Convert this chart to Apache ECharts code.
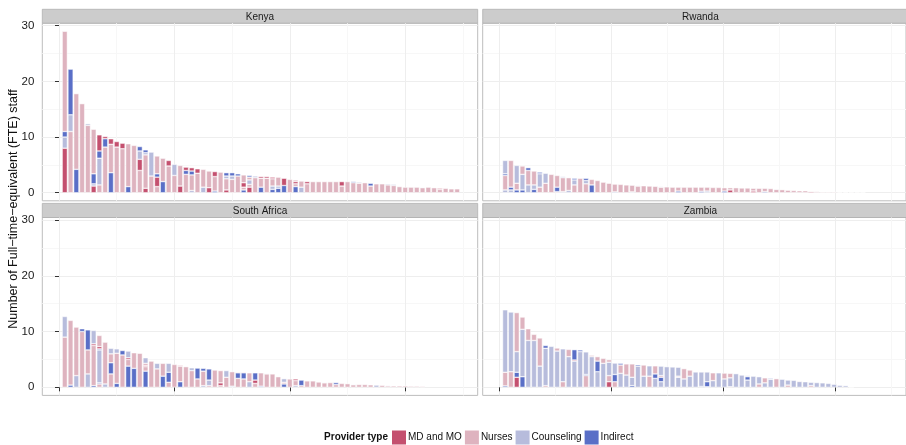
<!DOCTYPE html>
<html>
<head>
<meta charset="utf-8">
<script src="https://cdn.jsdelivr.net/npm/echarts@6/dist/echarts.min.js"></script>
<style>
html, body { margin: 0; padding: 0; background: #fff; }
#chart { width: 906px; height: 445px; }
</style>
</head>
<body>
<div id="chart"></div>
<script>
// provider type codes
var M = 0, N = 1, C = 2, I = 3;
var providerTypes = ['MD and MO', 'Nurses', 'Counseling', 'Indirect'];
var providerColors = ['#c4506f', '#deb3bf', '#b7bcdc', '#5a6fc7'];
var countries = ['Kenya', 'Rwanda', 'South Africa', 'Zambia'];
var yTicks = [0, 10, 20, 30];
var yMinor = [5, 15, 25];
var xTicks = [0, 20, 40, 60];
var xMinor = [10, 30, 50, 70];

// one entry per facility, segments from bottom to top: [provider type, FTE]
var kenya = [
  [[M,8],[C,2],[I,1],[N,18]],
  [[N,11],[C,3],[I,8.2]],
  [[I,4.2],[N,13.6]],
  [[N,16]],
  [[N,12.1],[C,0.3]],
  [[M,1.2],[C,0.4],[I,1.8],[N,8]],
  [[N,1.4],[C,4.8],[I,1.3],[M,2.9]],
  [[N,8.2],[I,1.5],[M,0.4]],
  [[I,3.6],[N,5.1],[M,1]],
  [[N,8.2],[M,1]],
  [[N,7.9],[M,1]],
  [[I,1.1],[N,7.7]],
  [[N,8.5]],
  [[N,4],[M,2],[C,1.5],[I,0.8]],
  [[M,0.8],[N,6],[C,0.4],[I,0.5]],
  [[N,3],[C,4.3]],
  [[N,1.1],[M,1.7],[I,0.6],[N,3.2]],
  [[I,2],[N,4.2]],
  [[N,4.8],[M,1]],
  [[N,3.1],[C,2]],
  [[M,1.2],[N,3.7]],
  [[N,3.3],[I,0.7],[M,0.6]],
  [[C,0.4],[N,2.8],[I,0.7],[M,0.6]],
  [[N,3.5],[M,0.8]],
  [[C,1],[N,3.2]],
  [[M,0.9],[N,3]],
  [[I,0.3],[N,2.6],[M,0.9]],
  [[N,3.7]],
  [[M,0.5],[N,2],[C,0.5],[I,0.6]],
  [[N,2.4],[C,0.6],[I,0.6]],
  [[N,3],[I,0.4]],
  [[I,0.5],[N,0.5],[M,0.8],[N,1.4]],
  [[M,1],[N,0.5],[C,0.8],[N,0.5],[I,0.3]],
  [[N,2.7],[C,0.3]],
  [[I,1],[N,1.6],[M,0.3]],
  [[N,2.6],[M,0.3]],
  [[I,0.6],[C,0.6],[N,1.3],[M,0.3]],
  [[I,0.8],[C,0.4],[N,1.6]],
  [[I,1.3],[M,1.3]],
  [[N,2.4]],
  [[I,1.1],[N,0.5],[M,0.4],[N,0.3]],
  [[C,1],[N,1.1]],
  [[N,1.6],[M,0.4]],
  [[N,2]], [[N,2]], [[N,2]], [[N,2]], [[N,2]],
  [[N,1.2],[M,0.8]],
  [[N,2]],
  [[N,1.8],[I,0.2]],
  [[N,1.7],[C,0.2]],
  [[N,1.8]],
  [[N,1.2],[I,0.5]],
  [[N,1.6]], [[N,1.6]],
  [[N,1.4],[C,0.2]],
  [[N,1.3],[C,0.2]],
  [[N,1.1]],
  [[N,1]], [[N,1]], [[N,1]],
  [[N,0.9],[I,0.1]],
  [[N,1]],
  [[N,0.9]],
  [[N,0.6],[M,0.2]],
  [[N,0.8]],
  [[N,0.7]], [[N,0.7]]
];

var rwanda = [
  [[C,0.5],[N,2.6],[I,0.3],[C,2.4]],
  [[C,0.5],[I,0.5],[N,4.8]],
  [[I,0.5],[N,1.2],[C,3.2]],
  [[I,0.5],[C,2.8],[N,1.5]],
  [[C,1.4],[N,2.6],[I,0.5]],
  [[I,0.6],[C,0.8],[N,2.5]],
  [[N,1],[C,2.4],[I,0.3]],
  [[N,1.7],[C,1.8]],
  [[N,3.3]],
  [[N,0.2],[I,0.8],[N,2.1]],
  [[C,0.2],[N,2.5],[C,0.2]],
  [[C,0.4],[N,2.3]],
  [[N,1.4],[C,0.9],[I,0.3]],
  [[N,2.6]],
  [[N,1.6],[C,0.6],[I,0.4]],
  [[I,1.4],[N,1]],
  [[N,2.2]],
  [[N,1.9]],
  [[N,1.7]],
  [[I,0.15],[N,1.4]],
  [[N,1.5]],
  [[N,1.4]],
  [[C,0.15],[N,1.2]],
  [[N,1.2],[I,0.1]],
  [[N,1.25]], [[N,1.2]], [[N,1.15]],
  [[N,1],[I,0.1]],
  [[N,1.05]],
  [[N,1]],
  [[I,0.3],[N,0.7]],
  [[N,1]], [[N,1]], [[N,1]],
  [[I,0.25],[N,0.75]],
  [[C,0.3],[N,0.7]],
  [[N,0.95]], [[N,0.95]],
  [[I,0.3],[N,0.6]],
  [[M,0.5],[N,0.4]],
  [[N,0.9]], [[N,0.85]], [[N,0.85]],
  [[M,0.3],[N,0.5]],
  [[N,0.8]],
  [[I,0.2],[N,0.6]],
  [[N,0.75]],
  [[N,0.6],[C,0.1]],
  [[N,0.55]], [[N,0.45]], [[N,0.4]], [[N,0.35]], [[N,0.35]],
  [[M,0.2],[N,0.1]],
  [[N,0.2]], [[N,0.15]], [[N,0.15]], [[N,0.15]],
  [[N,0.1]], [[N,0.1]], [[N,0.1]], [[N,0.1]], [[N,0.05]]
];

var southAfrica = [
  [[N,9],[C,3.7]],
  [[I,0.4],[N,11.6]],
  [[C,2.1],[N,8.7]],
  [[N,10],[I,0.5]],
  [[C,2.4],[N,4.3],[I,3.6]],
  [[I,0.3],[N,7.2],[M,0.3],[C,2.4]],
  [[N,0.6],[I,0.2],[C,5.9],[I,0.2],[M,0.4],[N,2]],
  [[C,0.6],[N,7.5]],
  [[N,2.4],[I,2],[N,1.6],[C,1]],
  [[I,0.7],[N,5.4],[C,0.8]],
  [[N,5.8],[I,0.8]],
  [[I,3.8],[N,1.2],[M,0.3],[C,1.2]],
  [[I,3.4],[N,2.8]],
  [[N,6.1]],
  [[I,2.9],[N,0.8],[M,0.2],[N,0.4],[C,1]],
  [[N,4.7]],
  [[N,3.3],[C,1]],
  [[I,2],[N,2.3]],
  [[N,0.9],[I,1.8],[C,1.6]],
  [[N,4.1]],
  [[I,1],[N,2.8],[M,0.15]],
  [[N,3.7]],
  [[N,3],[C,0.5]],
  [[N,1.5],[I,1.95]],
  [[C,0.3],[N,2.6],[I,0.5]],
  [[N,0.3],[C,1],[I,2]],
  [[N,3.1]],
  [[N,0.3],[M,0.5],[N,2.2]],
  [[N,1.8],[C,1.2]],
  [[C,0.2],[N,2.6]],
  [[N,1.6],[I,1],[N,0.15]],
  [[N,1.5],[I,1.1],[N,0.15]],
  [[C,1],[N,1.6]],
  [[N,0.7],[M,0.6],[I,1.3]],
  [[I,0.2],[N,2.4]],
  [[N,2.4],[I,0.1]],
  [[N,2.4]],
  [[N,1.9]],
  [[I,0.6],[N,0.3],[C,0.65]],
  [[N,1.5]],
  [[C,0.3],[N,0.9],[M,0.3]],
  [[N,0.3],[I,1]],
  [[N,1.15]], [[N,1.15]],
  [[N,0.95]],
  [[N,0.8],[I,0.1]],
  [[N,0.85]],
  [[N,0.5],[I,0.35]],
  [[N,0.7]], [[N,0.65]],
  [[N,0.45],[I,0.1]],
  [[N,0.5]], [[N,0.5]], [[N,0.45]],
  [[C,0.4]],
  [[N,0.35]],
  [[N,0.25],[I,0.1]],
  [[N,0.25]], [[N,0.25]], [[N,0.25]], [[N,0.2]], [[N,0.2]], [[N,0.15]]
];

var zambia = [
  [[I,0.25],[N,2.45],[C,11.2]],
  [[N,2.8],[C,10.7]],
  [[M,1.8],[I,0.9],[C,3.7],[N,7]],
  [[I,1.9],[C,8.5],[N,2.2]],
  [[C,8.4],[N,2.1]],
  [[C,8.4],[N,1.1]],
  [[C,3.8],[N,5.05]],
  [[N,0.3],[C,6.7],[I,0.5]],
  [[C,7.35]],
  [[C,6.5],[N,0.55]],
  [[N,1],[C,5.9]],
  [[C,5.5],[N,1.3]],
  [[C,4.7],[M,0.2],[I,1.85]],
  [[C,6.4],[I,0.3]],
  [[N,2.1],[I,0.2],[C,4.05]],
  [[C,5.5],[N,0.25]],
  [[C,2.8],[I,1.9],[N,0.8]],
  [[C,4.3],[N,0.9]],
  [[M,1],[N,1.1],[C,2.4],[N,0.45]],
  [[N,1],[I,1.3],[C,2.05]],
  [[C,2.5],[N,1.5],[I,0.3]],
  [[C,2.2],[N,2]],
  [[I,0.3],[C,1.5],[N,2.4]],
  [[C,3.8],[I,0.25]],
  [[C,2],[N,2]],
  [[N,2],[C,1.85]],
  [[C,1.6],[I,0.8],[N,1.45]],
  [[C,1],[I,0.8],[N,0.3],[C,1.7]],
  [[C,3.7]],
  [[C,3.65]],
  [[C,1.8],[N,0.2],[C,1.6]],
  [[C,1.5],[N,1.85]],
  [[C,2],[N,1.1]],
  [[C,2.75]],
  [[I,0.15],[C,2.6]],
  [[C,0.1],[I,0.9],[C,1.75]],
  [[C,1.2],[N,1.4]],
  [[C,2.6]],
  [[C,1.5],[N,1.05]],
  [[M,0.1],[C,1.6],[N,0.8]],
  [[C,2.45]],
  [[C,2.2]],
  [[C,1.3],[I,0.6],[C,0.2]],
  [[C,2]],
  [[N,0.6],[C,1.3]],
  [[C,0.8],[N,0.9]],
  [[C,1.45],[I,0.15]],
  [[N,1.55]],
  [[C,1.45]],
  [[N,0.4],[C,0.9]],
  [[C,1.25]],
  [[C,1.05],[M,0.1]],
  [[C,1]],
  [[N,0.3],[C,0.6]],
  [[C,0.85]], [[C,0.8]], [[C,0.7]], [[C,0.55]], [[C,0.35]], [[C,0.3]],
  [[N,0.05]]
];

var facilities = [kenya, rwanda, southAfrica, zambia];

// panel boxes (x: -2.894 .. 72.56, y: -1.45 .. 30.45)
var panels = [
  { left: 42.3, top: 23.2, width: 435.4, height: 177.6 },
  { left: 482.7, top: 23.2, width: 435.4, height: 177.6 },
  { left: 42.3, top: 217.5, width: 435.4, height: 177.9 },
  { left: 482.7, top: 217.5, width: 435.4, height: 177.9 }
];
var stripTops = [9.3, 9.3, 203.4, 203.4];
var xMin = -2.894, xMax = 72.56, yMin = -1.45, yMax = 30.45;

var chart = echarts.init(document.getElementById('chart'));

var grids = [], xAxes = [], yAxes = [], series = [], graphics = [];

// panel grids: border, grid lines, ticks, labels
panels.forEach(function (p, gi) {
  var bottomRow = gi >= 2, leftCol = gi % 2 === 0;
  grids.push({ left: p.left, top: p.top, width: p.width, height: p.height, show: true,
    backgroundColor: '#fff', borderColor: '#bdbdbd', borderWidth: 1 });
  xAxes.push({
    gridIndex: gi, type: 'value', min: xMin, max: xMax, position: 'bottom',
    axisLine: { show: false },
    axisTick: { show: bottomRow, customValues: xTicks, length: 4, lineStyle: { color: '#333' } },
    axisLabel: { show: false },
    splitLine: { show: true, lineStyle: { color: '#eeeeee', width: 1 } }
  });
  xAxes.push({
    gridIndex: gi, type: 'value', min: xMin, max: xMax, position: 'top',
    axisLine: { show: false },
    axisTick: { show: false, customValues: xMinor },
    axisLabel: { show: false },
    splitLine: { show: true, lineStyle: { color: '#f7f7f7', width: 1 } }
  });
  yAxes.push({
    gridIndex: gi, type: 'value', min: yMin, max: yMax, position: 'left',
    axisLine: { show: false },
    axisTick: { show: leftCol, customValues: yTicks, length: 4, lineStyle: { color: '#333' } },
    axisLabel: { show: leftCol, customValues: yTicks, margin: 8, color: '#1a1a1a', fontSize: 11.5,
      fontFamily: 'Liberation Sans' },
    splitLine: { show: true, lineStyle: { color: '#eeeeee', width: 1 } }
  });
  yAxes.push({
    gridIndex: gi, type: 'value', min: yMin, max: yMax, position: 'right',
    axisLine: { show: false },
    axisTick: { show: false, customValues: yMinor },
    axisLabel: { show: false },
    splitLine: { show: true, lineStyle: { color: '#f7f7f7', width: 1 } }
  });

  graphics.push({
    type: 'rect',
    shape: { x: p.left, y: stripTops[gi], width: p.width, height: p.top - stripTops[gi] },
    style: { fill: '#cccccc', stroke: '#b0b0b0', lineWidth: 0.8 }
  });
  graphics.push({
    type: 'text',
    style: { text: countries[gi], x: p.left + p.width / 2,
      y: (stripTops[gi] + p.top) / 2 + 0.5, textAlign: 'center', textVerticalAlign: 'middle',
      font: '10px "Liberation Sans"', fill: '#1a1a1a' }
  });
});

// bar grids: one category band per facility, lined up with the panel's x scale
panels.forEach(function (p, gi) {
  var bars = facilities[gi];
  var unit = p.width / (xMax - xMin);
  var gIdx = 4 + gi, axIdx = 8 + gi;
  grids.push({ left: p.left + (0.5 - xMin) * unit, top: p.top,
    width: bars.length * unit, height: p.height });
  xAxes.push({
    gridIndex: gIdx, type: 'category', boundaryGap: true,
    data: bars.map(function (b, i) { return i + 1; }),
    axisLine: { show: false }, axisTick: { show: false }, axisLabel: { show: false },
    splitLine: { show: false }
  });
  yAxes.push({
    gridIndex: gIdx, type: 'value', min: yMin, max: yMax,
    axisLine: { show: false }, axisTick: { show: false }, axisLabel: { show: false },
    splitLine: { show: false }
  });

  var depth = 0;
  bars.forEach(function (b) { depth = Math.max(depth, b.length); });
  for (var k = 0; k < depth; k++) {
    series.push({
      type: 'bar', stack: 'country' + gi, xAxisIndex: axIdx, yAxisIndex: axIdx,
      barWidth: '90%', silent: true,
      itemStyle: { borderColor: '#fff', borderWidth: 0.5 },
      data: bars.map(function (b) {
        var s = b[k];
        if (!s) return '-';
        return { value: s[1], itemStyle: { color: providerColors[s[0]] } };
      })
    });
  }
});

// legend entries
providerTypes.forEach(function (name, t) {
  series.push({
    type: 'bar', name: name, stack: 'country0', xAxisIndex: 8, yAxisIndex: 8,
    barWidth: '90%', data: [], itemStyle: { color: providerColors[t] }
  });
});

graphics.push({
  type: 'text', rotation: Math.PI / 2, x: 14, y: 209,
  style: { text: 'Number of Full\u2212time\u2212equivalent (FTE) staff', x: 0, y: 0,
    textAlign: 'center', textVerticalAlign: 'middle',
    font: '12.5px "Liberation Sans"', fill: '#111' }
});
graphics.push({
  type: 'text',
  style: { text: 'Provider type', x: 388, y: 437.5, textAlign: 'right', textVerticalAlign: 'middle',
    font: 'bold 10px "Liberation Sans"', fill: '#111' }
});

chart.setOption({
  animation: false,
  grid: grids,
  xAxis: xAxes,
  yAxis: yAxes,
  legend: {
    data: providerTypes, left: 392, top: 430.5, padding: 0, orient: 'horizontal',
    icon: 'rect', itemWidth: 14, itemHeight: 14, itemGap: 3, selectedMode: false,
    textStyle: { fontSize: 10, fontFamily: 'Liberation Sans', color: '#111', padding: [0, 0, 0, -3] }
  },
  series: series,
  graphic: graphics
});
</script>
</body>
</html>
